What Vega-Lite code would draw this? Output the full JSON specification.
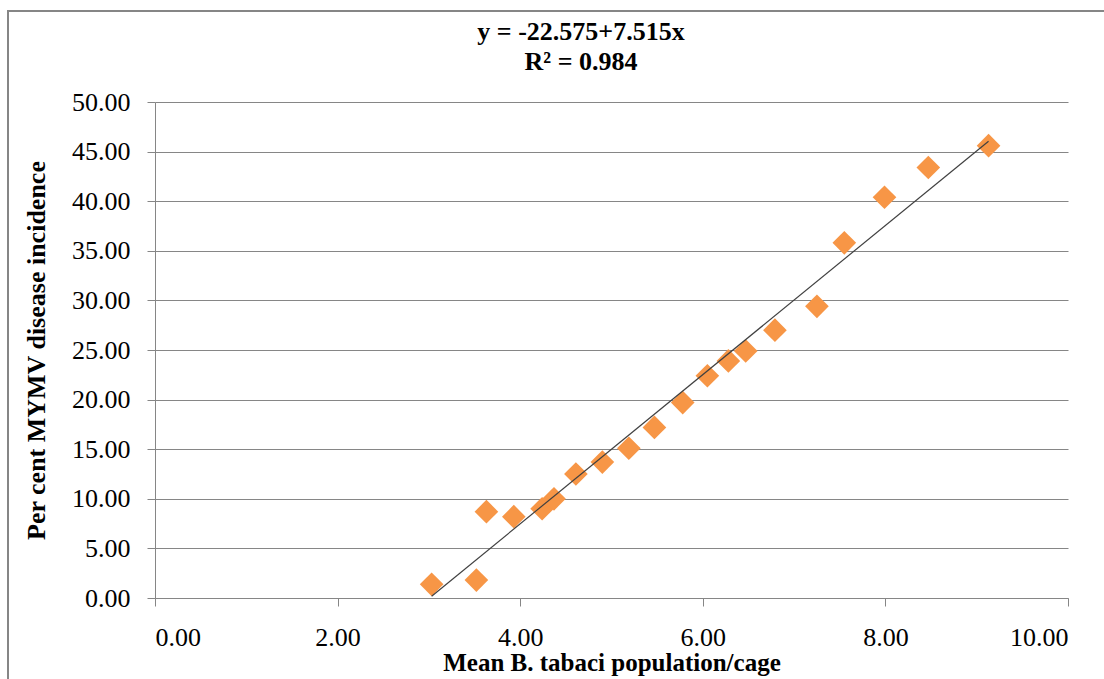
{
  "$schema": "https://vega.github.io/schema/vega-lite/v6.json",
  "width": 1106,
  "height": 678,
  "autosize": {"type": "none"},
  "padding": {"left": 8, "top": 11, "right": 0, "bottom": 0},
  "background": "white",
  "title": {
    "text": ["y = -22.575+7.515x", "R² = 0.984"],
    "font": "Liberation Serif",
    "fontSize": 26,
    "fontWeight": "bold",
    "color": "#000000",
    "lineHeight": 30,
    "anchor": "middle",
    "frame": "group",
    "dx": 20,
    "offset": -64
  },
  "data": {
    "values": [
      {"x": 3.03, "y": 1.38},
      {"x": 3.52, "y": 1.81},
      {"x": 3.63, "y": 8.7},
      {"x": 3.93, "y": 8.2},
      {"x": 4.24, "y": 9.0},
      {"x": 4.37, "y": 10.0},
      {"x": 4.61, "y": 12.5},
      {"x": 4.9, "y": 13.7},
      {"x": 5.19, "y": 15.1},
      {"x": 5.47, "y": 17.2},
      {"x": 5.78, "y": 19.7},
      {"x": 6.05, "y": 22.4},
      {"x": 6.28, "y": 23.9},
      {"x": 6.47, "y": 24.9},
      {"x": 6.79, "y": 27.0},
      {"x": 7.25, "y": 29.4},
      {"x": 7.55, "y": 35.8},
      {"x": 7.99, "y": 40.4},
      {"x": 8.47, "y": 43.4},
      {"x": 9.13, "y": 45.6}
    ]
  },
  "encoding": {
    "x": {
      "field": "x",
      "type": "quantitative",
      "scale": {"domain": [0, 10], "nice": false, "zero": false, "range": [147, 1060]},
      "axis": {
        "title": "Mean B. tabaci population/cage",
        "values": [0, 2, 4, 6, 8, 10],
        "format": ".2f",
        "grid": false,
        "offset": -91,
        "domainColor": "#868686",
        "tickColor": "#868686",
        "tickSize": 8,
        "labelFont": "Liberation Serif",
        "labelFontSize": 26,
        "labelColor": "#000000",
        "labelPadding": 18,
        "titleFont": "Liberation Serif",
        "titleFontSize": 25,
        "titleFontWeight": "bold",
        "titleColor": "#000000",
        "titlePadding": 0
      }
    },
    "y": {
      "field": "y",
      "type": "quantitative",
      "scale": {"domain": [0, 50], "nice": false, "zero": false, "range": [587, 91]},
      "axis": {
        "title": "Per cent MYMV disease incidence",
        "values": [0, 5, 10, 15, 20, 25, 30, 35, 40, 45, 50],
        "format": ".2f",
        "grid": true,
        "offset": -147,
        "gridColor": "#868686",
        "gridWidth": 1,
        "domainColor": "#868686",
        "tickColor": "#868686",
        "tickSize": 8,
        "labelFont": "Liberation Serif",
        "labelFontSize": 26,
        "labelColor": "#000000",
        "labelPadding": 17,
        "titleFont": "Liberation Serif",
        "titleFontSize": 26,
        "titleFontWeight": "bold",
        "titleColor": "#000000",
        "titlePadding": 22
      }
    }
  },
  "layer": [
    {
      "mark": {"type": "point", "shape": "diamond", "filled": true, "size": 560, "color": "#F79646", "opacity": 1}
    },
    {
      "transform": [{"regression": "y", "on": "x"}],
      "mark": {"type": "line", "color": "#404040", "strokeWidth": 1.2}
    }
  ],
  "config": {
    "view": {"stroke": "#868686", "strokeWidth": 2}
  }
}
